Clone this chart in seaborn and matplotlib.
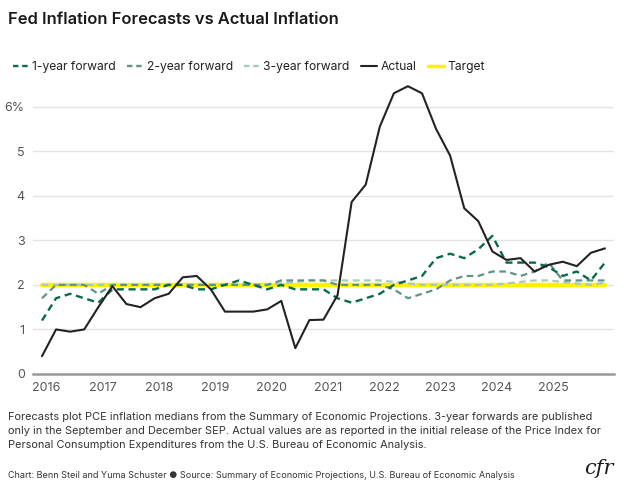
import numpy as np
import pandas as pd
import seaborn as sns
from matplotlib import pyplot as plt
from matplotlib.lines import Line2D

# SEP release dates, Dec 2015 .. Dec 2025 (quarterly)
sep_dates = pd.date_range("2015-12-01", "2025-12-01", freq="3MS")

actual = [0.4, 1.0, 0.95, 1.0, 1.5, 1.97, 1.57, 1.5, 1.7, 1.8,
          2.17, 2.2, 1.9, 1.4, 1.4, 1.4, 1.45, 1.64, 0.58, 1.21,
          1.22, 1.77, 3.86, 4.25, 5.55, 6.3, 6.46, 6.3, 5.5, 4.9,
          3.72, 3.43, 2.75, 2.56, 2.6, 2.3, 2.45, 2.52, 2.42, 2.72,
          2.82]
one_year = [1.2, 1.7, 1.8, 1.7, 1.6, 1.9, 1.9, 1.9, 1.9, 2.0,
            2.0, 1.9, 1.9, 2.0, 2.1, 2.0, 1.9, 2.0, 1.9, 1.9,
            1.9, 1.7, 1.6, 1.7, 1.8, 2.0, 2.1, 2.2, 2.6, 2.7,
            2.6, 2.8, 3.1, 2.5, 2.5, 2.5, 2.4, 2.2, 2.3, 2.1,
            2.5]
two_year = [1.7, 2.0, 2.0, 2.0, 1.8, 2.0, 2.0, 2.0, 2.0, 2.0,
            2.0, 2.0, 2.0, 2.0, 2.0, 2.0, 2.0, 2.1, 2.1, 2.1,
            2.1, 2.0, 2.0, 2.0, 2.0, 1.9, 1.7, 1.8, 1.9, 2.1,
            2.2, 2.2, 2.3, 2.3, 2.2, 2.3, 2.5, 2.1, 2.1, 2.1,
            2.1]
# only September and December releases carry a 3-year forecast
three_year = [2.0, None, None, 2.0, 2.0, None, None, 2.0, 2.0, None,
              None, 2.0, 2.0, None, None, 2.0, 2.0, None, None, 2.1,
              2.1, None, None, 2.1, 2.1, None, None, 2.0, 2.0, None,
              None, 2.0, 2.0, None, None, 2.1, 2.1, None, None, 2.0,
              2.05]
target = [2.0] * len(sep_dates)

years = list(range(2016, 2026))
y_ticks = [0, 1, 2, 3, 4, 5, 6]
y_labels = ["0", "1", "2", "3", "4", "5", "6%"]

df = pd.DataFrame({
    "t": sep_dates.year + (sep_dates.month - 1) / 12,
    "actual": actual,
    "one": one_year,
    "two": two_year,
    "three": pd.array(three_year, dtype="Float64").astype(float),
    "target": target,
})

sns.set_theme(style="white")
plt.rcParams["font.family"] = ["Inter", "DejaVu Sans"]

fig = plt.figure(figsize=(6.24, 4.93), dpi=100)
ax = fig.add_axes([33 / 624, 0.2414, 581 / 624, 0.5874])

c_one = "#0a6a4e"
c_two = "#5f9486"
c_three = "#a9c8c3"
c_act = "#222222"
c_tgt = "#fff200"
dash = (0, (3, 2))
leg_dash = (0, (2.3, 1.6))

sns.lineplot(data=df, x="t", y="target", ax=ax, color=c_tgt, linewidth=3.2, zorder=2)
sns.lineplot(data=df.dropna(subset=["three"]), x="t", y="three", ax=ax, color=c_three,
             linewidth=1.6, linestyle=dash, zorder=3)
sns.lineplot(data=df, x="t", y="two", ax=ax, color=c_two, linewidth=1.6,
             linestyle=dash, zorder=4)
sns.lineplot(data=df, x="t", y="one", ax=ax, color=c_one, linewidth=1.7,
             linestyle=dash, zorder=5)
sns.lineplot(data=df, x="t", y="actual", ax=ax, color=c_act, linewidth=1.5, zorder=6)

ax.set_xlim(2015.757, 2026.077)
ax.set_ylim(0, 6.5)
ax.set_xticks(years)
ax.set_xticklabels([str(y) for y in years])
ax.set_yticks(y_ticks)
ax.set_yticklabels(y_labels)
ax.set_xlabel("")
ax.set_ylabel("")
ax.grid(axis="y", color="#e3e3e3", linewidth=1.0)
ax.set_axisbelow(True)
for s in ["top", "right", "left"]:
    ax.spines[s].set_visible(False)
ax.spines["bottom"].set_color("#9a9a9a")
ax.spines["bottom"].set_linewidth(1.8)
ax.tick_params(axis="both", length=0, labelsize=9, colors="#555555")
ax.tick_params(axis="y", pad=6)
ax.tick_params(axis="x", pad=6)

handles = [
    Line2D([], [], color=c_one, lw=1.7, linestyle=leg_dash),
    Line2D([], [], color=c_two, lw=1.7, linestyle=leg_dash),
    Line2D([], [], color=c_three, lw=1.7, linestyle=leg_dash),
    Line2D([], [], color=c_act, lw=1.5),
    Line2D([], [], color=c_tgt, lw=2.5),
]
fig.legend(handles, ["1-year forward", "2-year forward", "3-year forward", "Actual", "Target"],
           loc="center left", bbox_to_anchor=(0.003, 1 - 67 / 493), ncol=5, frameon=False,
           fontsize=8.7, handlelength=1.35, handletextpad=0.25, columnspacing=0.95,
           labelcolor="#222222")

fig.text(8 / 624, 1 - 20 / 493, "Fed Inflation Forecasts vs Actual Inflation",
         fontsize=11.9, fontweight="semibold", color="#1a1a1a", va="center", ha="left")

note = ("Forecasts plot PCE inflation medians from the Summary of Economic Projections. 3-year forwards are published\n"
        "only in the September and December SEP. Actual values are as reported in the initial release of the Price Index for\n"
        "Personal Consumption Expenditures from the U.S. Bureau of Economic Analysis.")
fig.text(8 / 624, 1 - 412 / 493, note, fontsize=7.9, color="#333333", va="top", ha="left",
         linespacing=1.5)
fig.text(8 / 624, 1 - 476 / 493,
         "Chart: Benn Steil and Yuma Schuster \u25cf Source: Summary of Economic Projections, U.S. Bureau of Economic Analysis",
         fontsize=6.5, color="#333333", va="center", ha="left")
fig.text(614 / 624, 1 - 469 / 493, "cfr", fontsize=15, family=["DejaVu Serif"], style="italic",
         color="#1a1a1a", va="center", ha="right")

fig.savefig("out.png", dpi=100, facecolor="white")
